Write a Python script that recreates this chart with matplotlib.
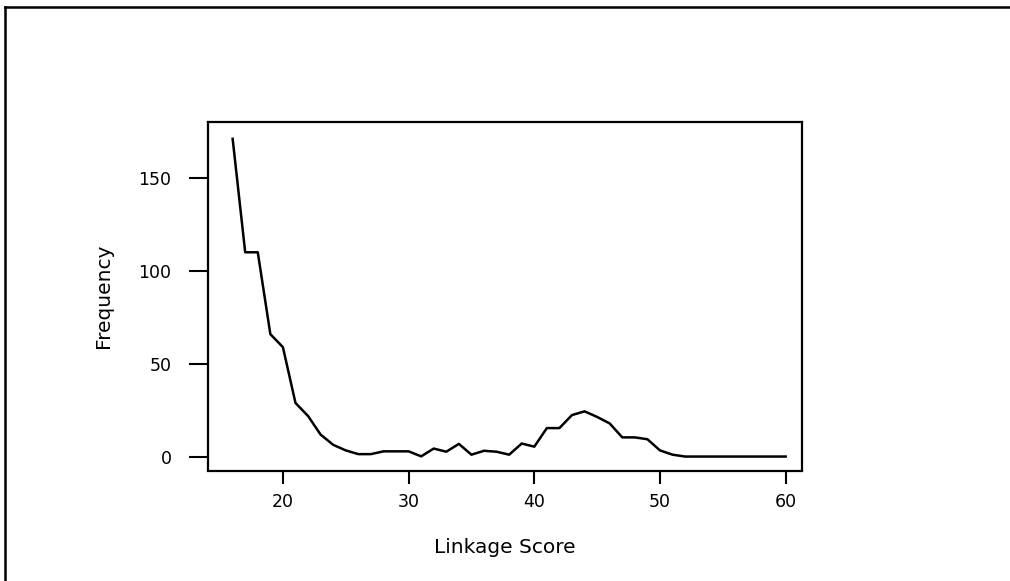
import matplotlib
matplotlib.use("Agg")
import matplotlib.pyplot as plt
from matplotlib.lines import Line2D

# data
score = list(range(16, 61))
freq = [171, 110, 110, 66, 59, 29, 22, 12, 6.5, 3.5,
        1.5, 1.5, 3, 3, 3, 0.3, 4.5, 2.8, 7, 1.2,
        3.3, 2.8, 1.2, 7.2, 5.5, 15.5, 15.5, 22.5, 24.5, 21.5,
        18, 10.5, 10.5, 9.5, 3.5, 1.2, 0.2, 0.2, 0.2, 0.2,
        0.2, 0.2, 0.2, 0.2, 0.2]
xticks = [20, 30, 40, 50, 60]
yticks = [0, 50, 100, 150]

plt.rcParams['font.family'] = ['DejaVu Sans']

fig = plt.figure(figsize=(10.10, 5.81), dpi=100)
ax = fig.add_axes([207.5 / 1010, 1 - 470.5 / 581, (802 - 207.5) / 1010, (470.5 - 121.5) / 581])

ax.plot(score, freq, color="black", lw=1.8)

ax.set_xlim(14.0, 61.3)
ax.set_ylim(-7.3, 180.3)
ax.set_xticks(xticks)
ax.set_yticks(yticks)
ax.tick_params(axis="x", direction="out", length=9.5, width=1.5, pad=7, labelsize=12.5)
ax.tick_params(axis="y", direction="out", length=14, width=1.5, pad=12, labelsize=12.5)
for s in ax.spines.values():
    s.set_linewidth(1.6)

ax.set_xlabel("Linkage Score", fontsize=14.5, labelpad=19)
ax.set_ylabel("Frequency", fontsize=14.5, labelpad=18)

# outer frame (top and left edges visible)
fig.add_artist(Line2D([5 / 1010, 1.0], [1 - 7 / 581, 1 - 7 / 581], color="black", lw=1.8, transform=fig.transFigure))
fig.add_artist(Line2D([5 / 1010, 5 / 1010], [0.0, 1 - 7 / 581], color="black", lw=1.8, transform=fig.transFigure))

fig.savefig("out.png", dpi=100)
